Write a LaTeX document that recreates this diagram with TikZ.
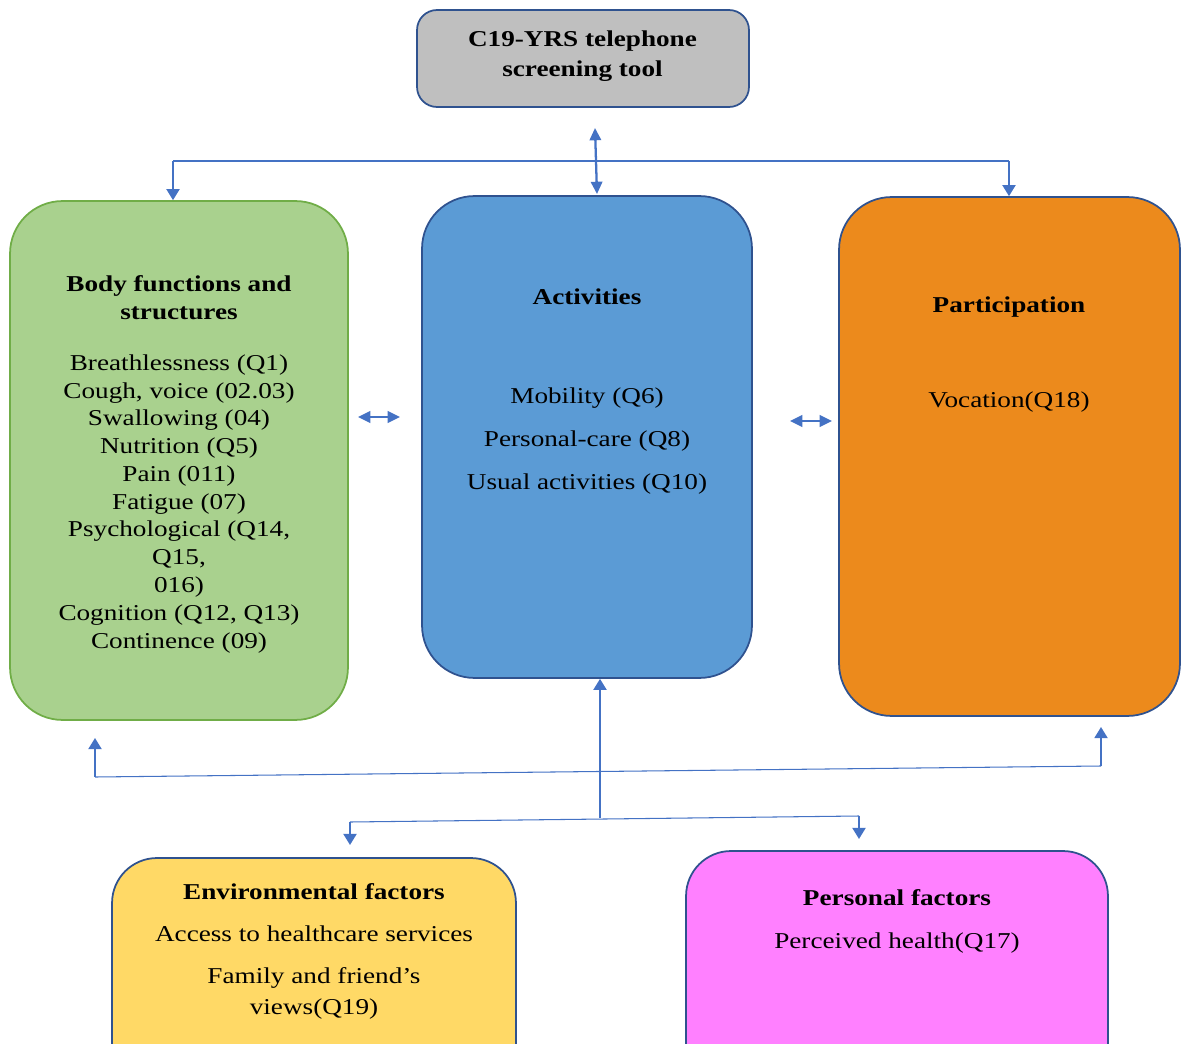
\documentclass[tikz,border=0pt]{standalone}
\usepackage{fontspec}
\setmainfont[FakeStretch=1.2]{Liberation Serif}
\usepackage{tikz}
\usetikzlibrary{arrows.meta}
\usepackage{xcolor}
\definecolor{edgeblue}{HTML}{2F528F}
\definecolor{linkblue}{HTML}{4472C4}
\definecolor{toolgray}{HTML}{BFBFBF}
\definecolor{bodygreen}{HTML}{A9D18E}
\definecolor{bodyedge}{HTML}{70AD47}
\definecolor{actblue}{HTML}{5B9BD5}
\definecolor{partorange}{HTML}{EC8A1C}
\definecolor{envyellow}{HTML}{FFD966}
\definecolor{perspink}{HTML}{FF80FF}
\newcommand{\diagfont}{\fontsize{12.9pt}{15.8pt}\selectfont}
\newcommand{\loosefont}{\fontsize{12.9pt}{17.6pt}\selectfont}

\begin{document}
\begin{tikzpicture}[x=0.02cm,y=-0.02cm,
    panel/.style={draw=edgeblue,line width=1pt,rounded corners=1.05cm,inner sep=0pt},
    label/.style={font=\diagfont,anchor=base,inner sep=0pt,align=center},
    head/.style={label,font=\diagfont\bfseries},
    bus/.style={draw=linkblue,line width=0.6pt},
    arr/.style={draw=linkblue,line width=1.1pt,-{Triangle[width=7.4pt,length=6.3pt]}},
    dbl/.style={draw=linkblue,line width=1.3pt,{Triangle[width=6.5pt,length=7pt]}-{Triangle[width=6.5pt,length=7pt]}}]
    \useasboundingbox (0,0) rectangle (1183,1044);

    % boxes
    \node[panel,fill=toolgray,rounded corners=0.4cm,minimum width=6.64cm,minimum height=1.94cm] (tool) at (583,58.5) {};
    \node[panel,draw=bodyedge,fill=bodygreen,minimum width=6.76cm,minimum height=10.38cm] (body) at (179,460.5) {};
    \node[panel,fill=actblue,minimum width=6.6cm,minimum height=9.64cm] (acts) at (587,437) {};
    \node[panel,fill=partorange,minimum width=6.82cm,minimum height=10.38cm] (part) at (1009.5,456.5) {};
    \node[panel,fill=envyellow,rounded corners=0.9cm,minimum width=8.08cm,minimum height=4.6cm] (env) at (314,973) {};
    \node[panel,fill=perspink,rounded corners=0.9cm,minimum width=8.44cm,minimum height=4.74cm] (pers) at (897,969.5) {};

    % texts (anchored on the baseline of their last line)
    \node[head,font=\loosefont\bfseries] (toolname) at (582.5,77) {C19-YRS telephone\\screening tool};
    \node[head] (bodyname) at (179,319) {Body functions and\\structures};
    \node[label] (bodylist) at (179,648) {Breathlessness (Q1)\\Cough, voice (02.03)\\Swallowing (04)\\Nutrition (Q5)\\Pain (011)\\Fatigue (07)\\Psychological (Q14,\\Q15,\\016)\\Cognition (Q12, Q13)\\Continence (09)};
    \node[head] (actsname) at (587,304) {Activities};
    \node[label] (actslist) at (587,489) {Mobility (Q6)\\[8.4pt]Personal-care (Q8)\\[8.4pt]Usual activities (Q10)};
    \node[head] (partname) at (1009,312) {Participation};
    \node[label] (partlist) at (1009,407) {Vocation(Q18)};
    \node[head] (envname) at (314,899) {Environmental factors};
    \node[label,font=\loosefont] (envlist) at (314,1014) {Access to healthcare services\\[6.3pt]Family and friend's\\views(Q19)};
    \node[head] (persname) at (897,905) {Personal factors};
    \node[label] (perslist) at (897,948) {Perceived health(Q17)};

    % connectors
    \coordinate (toolend) at (595,128);
    \coordinate (busleft) at (173,161);
    \coordinate (busright) at (1009,161);
    \draw[dbl] (toolend) -- (597,194);
    \draw[bus] (busleft) -- (busright);
    \draw[arr] (busleft) -- (busleft |- body.north);
    \draw[arr] (busright) -- (busright |- part.north);

    \coordinate (bfl) at (358,417);
    \coordinate (bfr) at (400,417);
    \coordinate (apl) at (790,421);
    \coordinate (apr) at (832,421);
    \draw[dbl] (bfl) -- (bfr);
    \draw[dbl] (apl) -- (apr);

    \coordinate (lowleft) at (95,777);
    \coordinate (lowright) at (1101,766);
    \draw[bus] (lowleft) -- (lowright);
    \draw[arr] (lowleft) -- (95,738);
    \draw[arr] (lowright) -- (1101,727);

    \coordinate (ctxleft) at (350,822);
    \coordinate (ctxright) at (859,816);
    \coordinate (ctxmid) at (600,818);
    \draw[arr] (ctxmid) -- (ctxmid |- acts.south);
    \draw[bus] (ctxleft) -- (ctxright);
    \draw[arr] (ctxleft) -- (350,845);
    \draw[arr] (ctxright) -- (859,839);
\end{tikzpicture}
\end{document}
